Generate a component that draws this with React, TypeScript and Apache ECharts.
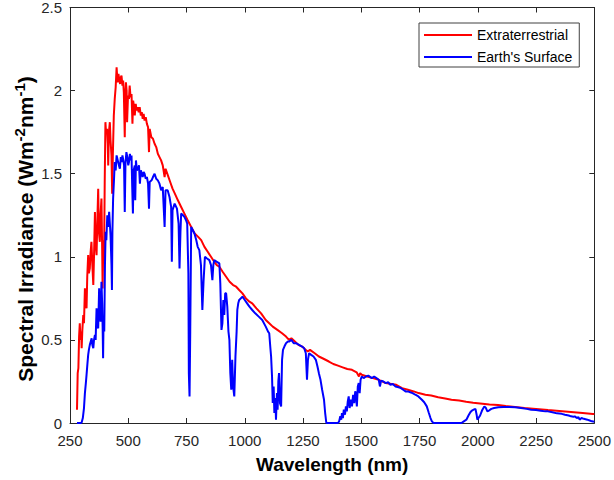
import React, { useEffect, useRef } from "react";
import * as echarts from "echarts";

const extraWavelength = [
  280, 283, 286, 289, 292, 295, 298, 300, 303, 307, 310, 314, 317, 321, 324, 328, 331, 335, 338, 342,
  346, 350, 353, 357, 360, 364, 367, 371, 374, 378, 381, 385, 388, 390, 393, 396, 399, 402, 405, 409,
  412, 414, 417, 421, 424, 428, 431, 434, 438, 442, 446, 450, 454, 458, 461, 465, 468, 471, 475, 478,
  481, 485, 487, 490, 493, 495, 499, 503, 506, 510, 514, 518, 521, 525, 528, 532, 536, 540, 545, 549,
  554, 558, 562, 566, 570, 575, 580, 585, 589, 592, 599, 606, 613, 620, 627, 634, 641, 648, 656, 660,
  670, 680, 690, 700, 713, 727, 741, 755, 770, 785, 800, 813, 827, 841, 855, 869, 880, 891, 905, 920,
  935, 950, 963, 976, 990, 1005, 1020, 1032, 1050, 1070, 1090, 1105, 1120, 1140, 1160, 1177, 1190, 1200, 1215, 1230,
  1246, 1262, 1270, 1280, 1300, 1318, 1340, 1361, 1380, 1400, 1420, 1440, 1460, 1480, 1490, 1495, 1502, 1525, 1550, 1575,
  1605, 1630, 1650, 1675, 1700, 1725, 1746, 1775, 1800, 1830, 1860, 1887, 1920, 1950, 1980, 2010, 2050, 2087, 2120, 2160,
  2200, 2250, 2301, 2350, 2400, 2450, 2494, 2500,
];
const extraIrradiance = [
  0.08, 0.3, 0.33, 0.52, 0.6, 0.5, 0.55, 0.45, 0.56, 0.65, 0.6, 0.81, 0.72, 0.69, 0.88, 1.01, 0.9, 0.93, 1.02, 1.09,
  0.95, 0.83, 1.0, 1.27, 1.08, 1.01, 1.2, 1.41, 1.15, 1.09, 1.25, 1.35, 1.05, 0.81, 1.1, 0.97, 1.45, 1.81, 1.74, 1.77,
  1.68, 1.55, 1.75, 1.81, 1.7, 1.61, 1.38, 1.62, 1.85, 1.95, 2.02, 2.14, 2.05, 2.1, 2.07, 2.04, 2.08, 2.09, 2.03, 2.06,
  1.99, 1.72, 1.95, 2.05, 2.0, 1.81, 1.97, 1.95, 2.03, 1.96, 1.98, 1.8, 1.94, 1.9, 1.85, 1.92, 1.88, 1.9, 1.87, 1.9,
  1.85, 1.87, 1.83, 1.86, 1.82, 1.84, 1.8, 1.78, 1.63, 1.77, 1.72, 1.71, 1.68, 1.66, 1.62, 1.6, 1.58, 1.55, 1.48, 1.53,
  1.49, 1.45, 1.41, 1.38, 1.34, 1.3, 1.26, 1.22, 1.18, 1.14, 1.12, 1.1, 1.06, 1.03, 1.0, 0.97, 0.95, 0.94, 0.91, 0.88,
  0.85, 0.83, 0.82, 0.8, 0.78, 0.75, 0.73, 0.72, 0.69, 0.66, 0.62, 0.6, 0.58, 0.56, 0.54, 0.52, 0.5, 0.51, 0.49, 0.47,
  0.46, 0.44, 0.43, 0.44, 0.42, 0.4, 0.385, 0.37, 0.355, 0.345, 0.335, 0.325, 0.32, 0.305, 0.28, 0.3, 0.29, 0.28, 0.27, 0.26,
  0.24, 0.235, 0.23, 0.21, 0.2, 0.19, 0.18, 0.17, 0.165, 0.155, 0.148, 0.14, 0.135, 0.128, 0.122, 0.118, 0.112, 0.108, 0.102, 0.097,
  0.09, 0.085, 0.078, 0.072, 0.066, 0.06, 0.054, 0.054,
];

const surfaceWavelength = [
  280, 290, 297, 300, 305, 310, 314, 318, 321, 325, 328, 331, 335, 339, 343, 346, 350, 353, 357, 360,
  364, 367, 371, 375, 378, 381, 385, 388, 390, 392, 394, 397, 400, 403, 406, 410, 414, 418, 421, 424,
  428, 430, 432, 435, 439, 442, 446, 450, 455, 460, 464, 468, 472, 475, 479, 482, 485, 488, 492, 496,
  500, 503, 507, 510, 514, 517, 520, 523, 528, 530, 533, 537, 542, 546, 550, 554, 558, 562, 566, 570,
  575, 580, 585, 589, 592, 600, 606, 613, 620, 627, 634, 641, 648, 656, 660, 669, 677, 684, 687, 690,
  699, 709, 716, 720, 724, 727, 735, 741, 748, 753, 758, 760, 763, 766, 770, 777, 784, 792, 798, 805,
  812, 818, 823, 829, 838, 848, 855, 861, 865, 869, 880, 891, 895, 900, 904, 908, 912, 916, 920, 925,
  930, 934, 938, 942, 946, 950, 955, 960, 965, 968, 972, 976, 983, 990, 1000, 1010, 1020, 1032, 1045, 1060,
  1075, 1090, 1100, 1105, 1110, 1113, 1117, 1120, 1124, 1127, 1131, 1134, 1138, 1141, 1144, 1147, 1151, 1156, 1160, 1164,
  1170, 1177, 1185, 1190, 1200, 1210, 1220, 1233, 1246, 1255, 1262, 1267, 1271, 1276, 1285, 1295, 1305, 1312, 1318, 1325,
  1332, 1340, 1345, 1350, 1360, 1380, 1400, 1405, 1410, 1414, 1417, 1421, 1425, 1430, 1434, 1438, 1442, 1446, 1450, 1455,
  1460, 1465, 1470, 1474, 1477, 1481, 1485, 1489, 1493, 1497, 1502, 1510, 1520, 1530, 1545, 1555, 1565, 1575, 1580, 1585,
  1595, 1605, 1615, 1625, 1635, 1647, 1660, 1670, 1680, 1690, 1700, 1710, 1720, 1732, 1745, 1760, 1770, 1781, 1790, 1797,
  1803, 1810, 1850, 1900, 1930, 1940, 1951, 1960, 1968, 1975, 1982, 1990, 1995, 1998, 2003, 2010, 2018, 2028, 2035, 2041,
  2048, 2058, 2070, 2088, 2110, 2135, 2160, 2185, 2210, 2229, 2250, 2270, 2290, 2301, 2320, 2340, 2360, 2374, 2390, 2400,
  2410, 2416, 2425, 2432, 2437, 2445, 2455, 2470, 2480, 2490, 2500,
];
const surfaceIrradiance = [
  0, 0, 0, 0.003, 0.03, 0.09, 0.18, 0.24, 0.29, 0.36, 0.41, 0.44, 0.47, 0.49, 0.51, 0.47, 0.45, 0.5, 0.53, 0.5,
  0.69, 0.58, 0.57, 0.81, 0.66, 0.61, 0.85, 0.72, 0.58, 0.39, 0.62, 0.55, 0.95, 1.15, 1.1, 1.25, 1.18, 1.27, 1.2, 1.13,
  0.95, 0.8, 1.15, 1.35, 1.47, 1.57, 1.52, 1.61, 1.58, 1.55, 1.53, 1.6, 1.57, 1.61, 1.58, 1.55, 1.27, 1.56, 1.63, 1.6,
  1.55, 1.57, 1.62, 1.58, 1.61, 1.42, 1.26, 1.52, 1.55, 1.34, 1.58, 1.52, 1.53, 1.55, 1.44, 1.52, 1.5, 1.48, 1.51, 1.5,
  1.47, 1.48, 1.44, 1.29, 1.45, 1.46, 1.48, 1.5, 1.47, 1.46, 1.44, 1.4, 1.42, 1.18, 1.4, 1.4, 1.36, 1.3, 0.97, 1.28,
  1.32, 1.29, 1.2, 0.93, 1.15, 1.26, 1.25, 1.24, 1.22, 1.2, 0.9, 0.3, 0.16, 0.55, 1.18, 1.16, 1.14, 1.1, 1.06, 1.04,
  0.95, 0.68, 0.85, 1.0, 0.99, 0.98, 0.95, 0.86, 0.95, 0.98, 0.97, 0.96, 0.84, 0.56, 0.6, 0.74, 0.65, 0.78, 0.78, 0.7,
  0.55, 0.5, 0.3, 0.2, 0.38, 0.22, 0.16, 0.4, 0.55, 0.68, 0.72, 0.74, 0.75, 0.76, 0.74, 0.72, 0.7, 0.68, 0.66, 0.64,
  0.62, 0.58, 0.55, 0.54, 0.45, 0.4, 0.28, 0.12, 0.22, 0.06, 0.15, 0.02, 0.18, 0.08, 0.25, 0.3, 0.12, 0.1, 0.38, 0.44,
  0.46, 0.48, 0.49, 0.49, 0.5, 0.48, 0.48, 0.47, 0.46, 0.45, 0.42, 0.26, 0.38, 0.42, 0.41, 0.4, 0.38, 0.34, 0.3, 0.26,
  0.2, 0.14, 0.06, 0, 0, 0, 0, 0.01, 0.04, 0.02, 0.06, 0.03, 0.08, 0.05, 0.1, 0.07, 0.13, 0.16, 0.09, 0.14,
  0.1, 0.17, 0.12, 0.19, 0.18, 0.1, 0.22, 0.24, 0.18, 0.26, 0.28, 0.27, 0.28, 0.285, 0.27, 0.28, 0.27, 0.26, 0.22, 0.255,
  0.25, 0.24, 0.245, 0.23, 0.235, 0.22, 0.215, 0.21, 0.2, 0.19, 0.19, 0.185, 0.18, 0.17, 0.16, 0.14, 0.125, 0.1, 0.06, 0.03,
  0.01, 0, 0, 0, 0, 0.01, 0.02, 0.045, 0.065, 0.075, 0.08, 0.085, 0.05, 0.02, 0.03, 0.045, 0.075, 0.1, 0.09, 0.07,
  0.075, 0.085, 0.09, 0.095, 0.097, 0.096, 0.095, 0.09, 0.085, 0.08, 0.078, 0.074, 0.07, 0.07, 0.065, 0.058, 0.055, 0.05, 0.045, 0.04,
  0.038, 0.04, 0.03, 0.035, 0.02, 0.03, 0.025, 0.02, 0.015, 0.01, 0.008,
];

const xRange = { min: 250, max: 2500, step: 250 };
const yRange = { min: 0, max: 2.5, step: 0.5 };
const seriesNames = ["Extraterrestrial", "Earth's Surface"];

const FONT = "'Liberation Sans', Arial, Helvetica, sans-serif";
const AXIS_COLOR = "#262626";

export default function App() {
  const ref = useRef<HTMLDivElement>(null);
  useEffect(() => {
    const chart = echarts.init(ref.current!, undefined, { renderer: "svg" });
    const lineStyle = { color: AXIS_COLOR, width: 1 };
    const baseX = {
      type: "value" as const,
      min: xRange.min,
      max: xRange.max,
      interval: xRange.step,
      splitLine: { show: false },
      axisLine: { show: true, onZero: false, lineStyle },
      axisTick: { show: true, inside: true, length: 5, lineStyle },
    };
    const baseY = {
      type: "value" as const,
      min: yRange.min,
      max: yRange.max,
      interval: yRange.step,
      splitLine: { show: false },
      axisLine: { show: true, onZero: false, lineStyle },
      axisTick: { show: true, inside: true, length: 5, lineStyle },
    };
    chart.setOption({
      animation: false,
      backgroundColor: "#ffffff",
      grid: { left: 70, right: 18, top: 7, bottom: 57, containLabel: false },
      legend: {
        orient: "vertical",
        left: 419,
        top: 23,
        padding: [5, 7, 3, 5],
        itemWidth: 48,
        itemHeight: 2,
        itemGap: 8,
        backgroundColor: "#ffffff",
        borderColor: "#404040",
        borderWidth: 1,
        borderRadius: 0,
        textStyle: { fontFamily: FONT, fontSize: 14, color: "#000" },
        data: seriesNames.map((n) => ({ name: n, icon: "rect" })),
      },
      graphic: [
        {
          type: "text",
          x: 25,
          y: 229,
          rotation: Math.PI / 2,
          silent: true,
          style: {
            text: "{b|Spectral Irradiance (Wm}{s|-2}{b|nm}{s|-1}{b|)}",
            align: "center",
            verticalAlign: "middle",
            rich: {
              b: { fontFamily: FONT, fontSize: 21, fontWeight: "bold", fill: "#000", lineHeight: 26 },
              s: { fontFamily: FONT, fontSize: 15, fontWeight: "bold", fill: "#000", lineHeight: 15, verticalAlign: "top" },
            },
          },
        },
      ],
      xAxis: [
        {
          ...baseX,
          position: "bottom",
          name: "Wavelength (nm)",
          nameLocation: "middle",
          nameGap: 32,
          nameTextStyle: { fontFamily: FONT, fontSize: 19, fontWeight: "bold", color: "#000" },
          axisLabel: {
            color: AXIS_COLOR,
            fontFamily: FONT,
            fontSize: 15,
            margin: 10,
            formatter: (v: number) => String(v),
          },
        },
        { ...baseX, position: "top", axisLabel: { show: false } },
      ],
      yAxis: [
        {
          ...baseY,
          position: "left",
          axisLabel: {
            color: AXIS_COLOR,
            fontFamily: FONT,
            fontSize: 15,
            margin: 8,
            formatter: (v: number) => String(v),
          },
        },
        { ...baseY, position: "right", axisLabel: { show: false } },
      ],
      series: [
        {
          name: seriesNames[0],
          type: "line",
          showSymbol: false,
          symbol: "none",
          color: "#ff0000",
          lineStyle: { color: "#ff0000", width: 2 },
          data: extraWavelength.map((w, i) => [w, extraIrradiance[i]]),
        },
        {
          name: seriesNames[1],
          type: "line",
          showSymbol: false,
          symbol: "none",
          color: "#0000ff",
          lineStyle: { color: "#0000ff", width: 2 },
          data: surfaceWavelength.map((w, i) => [w, surfaceIrradiance[i]]),
        },
      ],
    });
    return () => chart.dispose();
  }, []);
  return (
    <div
      ref={ref}
      style={{ position: "fixed", left: 0, top: 0, width: 614, height: 480, background: "#fff" }}
    />
  );
}
